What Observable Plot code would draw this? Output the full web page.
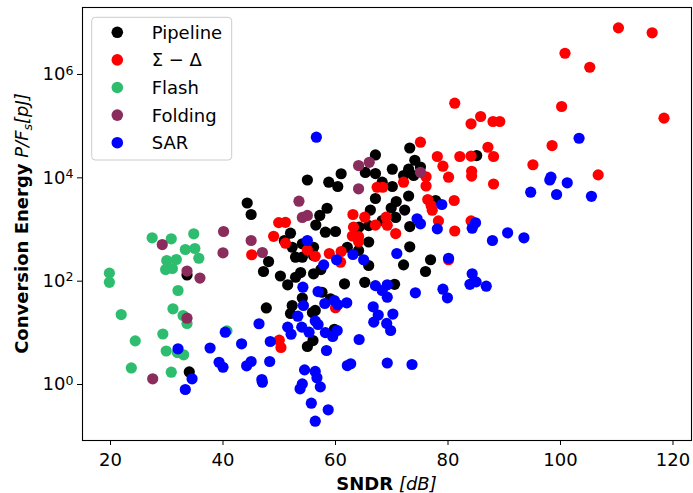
<!DOCTYPE html>
<html><head><meta charset="utf-8">
<script src="https://cdn.jsdelivr.net/npm/d3@7"></script>
<script src="https://cdn.jsdelivr.net/npm/@observablehq/plot@0.6"></script>
<style>
html,body{margin:0;padding:0;background:#fff;}
#chart svg{display:block;}
</style></head><body><div id="chart"></div>
<script>
// ---- data (SNDR in dB, conversion energy P/Fs in pJ) ----
const pipelineSNDR = [73.2,67.1,85.1,74.1,75.1,70.1,73.0,65.3,67.1,61.0,72.1,73.9,55.0,58.8,68.3,60.4,70.1,73.0,67.1,70.8,44.3,77.8,69.9,72.3,58.5,66.2,45.0,57.2,70.7,68.3,56.5,65.9,64.2,73.2,58.2,60.0,52.0,50.9,54.1,65.9,56.1,62.1,73.2,64.1,52.9,54.1,56.1,76.9,48.1,65.9,72.1,47.2,50.2,53.8,52.9,56.1,57.4,76.0,33.6,51.5,61.6,65.2,70.5,57.6,54.1,59.1,47.7,52.3,52.0,56.4,55.9,59.8,56.0,55.0,34.0,52.3];
const pipelineE = [37800,27700,27000,21900,16200,14700,14700,12700,12100,12000,11100,11100,9080,8230,8230,6790,6790,4450,3980,3480,3260,3640,2610,2380,2580,2380,1950,1870,1710,1490,1220,1190,1110,1140,887,915,848,612,529,573,454,454,462,392,291,291,314,260,240,201,207,154,126,147,119,139,168,154,132,85,89,95,87,61,47.2,45.6,30.3,33.8,23.7,27.1,24.7,11.7,7.1,5.44,1.75,454];

const sdSNDR = [110.3,116.3,100.8,105.2,81.2,100.2,118.4,85.8,84.1,88.0,89.2,75.1,98.5,87.1,78.1,82.1,84.1,88.1,79.1,95.1,84.2,84.2,80.1,106.7,76.1,76.1,88.1,72.1,67.4,68.4,76.4,81.1,77.0,77.2,78.3,84.1,81.2,69.0,69.2,67.1,65.2,70.7,63.1,63.2,63.0,64.1,64.1,49.9,51.1,49.0,51.1,45.1,55.0,56.4,58.9,61.0,60.9,60.0,50.0,50.3,80.1];
const sdE = [8.0e6,6.41e6,2.58e6,1.38e6,278000,240000,143000,154000,111000,123000,123000,48900,42200,39100,25900,25900,26400,25900,16800,17900,13400,10800,10300,11400,10500,6950,7590,8230,6580,6580,3800,3640,2910,2360,1470,1470,935,1730,1210,1220,1730,836,1950,1110,748,732,586,1360,1380,738,543,325,401,303,343,375,233,30.6,7.2,5.2,260];

const flashSNDR = [27.4,30.8,34.8,33.3,35.0,35.7,30.0,31.7,29.8,31.0,19.8,19.8,32.0,21.9,31.1,32.9,33.6,40.7,29.3,24.4,29.9,31.9,33.0,23.7,30.8];
const flashE = [690,661,826,410,429,278,251,263,168,176,143,95,66,22.6,29.2,21.6,15.2,10.9,9.5,7.0,4.45,4.16,3.76,2.09,1.73];

const foldSNDR = [66.0,64.1,75.1,64.1,53.5,55.0,54.1,40.1,45.0,29.2,47.0,40.0,33.6,35.9,33.6,27.5];
const foldE = [20000,17300,12800,6130,3530,1870,1710,915,612,512,359,354,157,115,19.2,1.29];

const sarSNDR = [56.6,103.3,98.3,98.1,101.2,94.7,99.3,105.5,78.9,74.5,75.1,78.1,84.9,84.3,87.9,90.6,93.5,70.9,80.1,84.3,83.9,85.0,86.8,67.1,69.2,68.3,69.2,74.2,79.1,79.9,66.7,67.6,70.2,66.8,69.1,69.8,64.2,69.2,73.6,55.0,57.9,60.2,63.1,65.0,54.2,56.9,58.1,59.8,60.4,62.0,54.3,53.3,46.4,51.5,52.1,54.0,55.3,56.4,56.9,58.2,60.3,59.5,43.3,48.4,58.4,40.4,37.7,32.0,39.3,40.0,44.2,45.0,48.3,46.9,47.0,34.5,33.3,54.5,56.4,56.7,54.1,53.7,57.3,55.7,58.7,56.4,62.1,62.7];
const sarE = [61100,58400,10300,9080,8010,5270,4760,4390,3050,1610,1290,1030,1350,1060,612,863,690,343,278,139,87,97,80,82,85,66,49,59.5,69.9,47.6,31.9,22.1,23.1,16.1,15.2,11.1,7.43,2.61,2.44,612,207,260,328,260,76.4,63,37,42.2,34.9,38.1,33.8,21.0,15.0,12.9,9.41,12.9,10.3,16.9,14.5,10.1,11.1,8.49,6.13,6.8,4.55,10.3,5.09,4.91,2.70,2.16,2.30,2.79,2.79,1.25,1.11,1.29,0.80,1.92,1.79,1.35,1.03,0.826,0.90,0.435,0.324,0.195,2.33,2.52];

const seriesNames = ["Pipeline","Σ − Δ","Flash","Folding","SAR"];
const seriesColors = ["#000000","#ff0000","#2ebd6e","#8b2d5c","#0000ff"];
const xTicks = [20,40,60,80,100,120];
const yTicks = [1,1e2,1e4,1e6];
const yTickExp = ["0","2","4","6"];

// ---- build table ----
const seriesData = [[pipelineSNDR,pipelineE],[sdSNDR,sdE],[flashSNDR,flashE],[foldSNDR,foldE],[sarSNDR,sarE]];
const rows = [];
seriesData.forEach(([xs,ys],i)=>{
  const n = Math.min(xs.length, ys.length);
  for (let j=0;j<n;j++) rows.push({sndr:xs[j], energy:ys[j], type:seriesNames[i]});
});

const W=693, H=493;
const plot = Plot.plot({
  width: W, height: H,
  marginLeft: 82, marginRight: 2, marginTop: 7, marginBottom: 53,
  style: {fontFamily: "'DejaVu Sans', sans-serif", fontSize: "18px", color: "#000", background: "#fff", overflow: "visible"},
  x: {domain: [15.02, 123.29]},
  y: {type: "log", domain: [0.0825, 1.98e7]},
  color: {domain: seriesNames, range: seriesColors},
  marks: [
    Plot.dot(rows, {x: "sndr", y: "energy", fill: "type", r: 5.6}),
    Plot.frame({stroke: "#000", strokeWidth: 1.1}),
    Plot.axisX({ticks: xTicks, tickSize: 5, tickPadding: 8, label: null, fontSize: 18, tickFormat: d => String(d)}),
    Plot.axisY({ticks: yTicks, tickSize: 5, tickPadding: 4, label: null, fontSize: 18,
      tickFormat: d => "10^" + yTickExp[yTicks.indexOf(d)]})
  ]
});
document.getElementById("chart").appendChild(plot);

const svg = d3.select(plot);
// superscript exponents on log tick labels
svg.selectAll("text").each(function(){
  const t = this.textContent;
  const m = /^10\^(-?\d+)$/.exec(t);
  if (!m) return;
  const el = d3.select(this);
  el.text("");
  el.append("tspan").text("10");
  el.append("tspan").attr("dy","-0.45em").attr("font-size","12.6px").text(m[1]);
});

// axis labels
const xl = svg.append("text")
  .attr("x", (82 + W - 2) / 2).attr("y", 490)
  .attr("text-anchor", "middle").attr("font-size", 18).attr("fill", "#000");
xl.append("tspan").attr("font-weight", "bold").text("SNDR");
xl.append("tspan").text(" ");
xl.append("tspan").attr("font-style", "italic").text("[dB]");

const yl = svg.append("text")
  .attr("transform", `translate(28,${(7 + H - 53) / 2}) rotate(-90)`)
  .attr("text-anchor", "middle").attr("font-size", 18).attr("fill", "#000");
yl.append("tspan").attr("font-weight", "bold").text("Conversion Energy");
yl.append("tspan").text(" ");
yl.append("tspan").attr("font-style", "italic").text("P/F");
yl.append("tspan").attr("font-style", "italic").attr("font-size", 12.6).attr("dy", 4).text("s");
yl.append("tspan").attr("font-style", "italic").attr("dy", -4).text("[pJ]");

// legend
const lg = svg.append("g");
lg.append("rect").attr("x", 91.7).attr("y", 17.3).attr("width", 140).attr("height", 142.7)
  .attr("rx", 3.5).attr("fill", "#fff").attr("fill-opacity", 0.8).attr("stroke", "#cccccc").attr("stroke-width", 1);
seriesNames.forEach((name, i) => {
  const cy = 32.3 + i * 27.6;
  lg.append("circle").attr("cx", 117.3).attr("cy", cy).attr("r", 5.8).attr("fill", seriesColors[i]);
  lg.append("text").attr("x", 151.7).attr("y", cy + 6.5).attr("text-anchor", "start")
    .attr("font-size", 18).attr("fill", "#000").text(name);
});
</script></body></html>
